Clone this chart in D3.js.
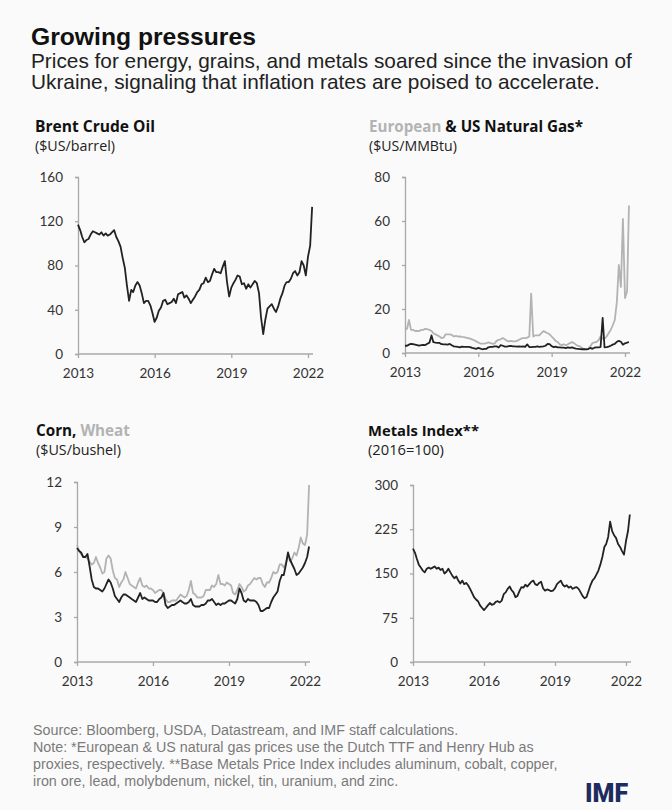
<!DOCTYPE html>
<html>
<head>
<meta charset="utf-8">
<script src="https://cdn.jsdelivr.net/npm/d3@7"></script>
<style>
  body { margin: 0; background: #fafafa; }
  svg { display: block; font-family: "Open Sans", Lato, sans-serif; }
  .tight { font-family: "Liberation Sans", Arial, sans-serif; }
</style>
</head>
<body>
<script>
// monthly values, Jan 2013 .. Mar 2022
var brent = [
  117, 112, 106, 101, 103, 104, 108, 111, 110, 109, 108, 110,
  107, 109, 107, 108, 110, 112, 106, 102, 97, 87, 78, 62,
  48, 58, 56, 62, 65, 62, 55, 46, 48, 48, 44, 37,
  29, 33, 39, 42, 48, 49, 45, 46, 47, 50, 46, 54,
  55, 56, 51, 53, 50, 46, 49, 52, 56, 58, 63, 64,
  69, 65, 66, 72, 77, 74, 74, 73, 79, 84, 65, 52,
  60, 64, 67, 71, 70, 63, 64, 59, 63, 60, 63, 66,
  64, 55, 33, 18, 31, 41, 43, 45, 41, 38, 43, 50,
  55, 62, 65, 65, 68, 73, 75, 71, 74, 84, 80, 71,
  88, 98, 133];

var gasEurope = [
  10.5, 11, 15, 10.5, 10.5, 10, 10, 10, 10.5, 10.5, 11, 10.8,
  10.5, 10, 9, 8.5, 8, 7.5, 6.8, 7, 8.5, 8.5, 8.5, 8.2,
  7.5, 7.8, 7.5, 7.5, 7.3, 7.2, 7, 6.8, 6.5, 6.2, 5.8, 5.3,
  4.8, 4.3, 4.3, 4.3, 4.5, 4.8, 4.5, 4.2, 4.3, 5.5, 6, 6.2,
  6.8, 6.2, 5.6, 5.3, 5.5, 5.3, 5.3, 5.5, 6, 6.5, 6.8, 6.8,
  7, 7.5, 27, 7.5, 8, 8, 8, 9, 10, 9.5, 9, 8.5,
  7.5, 6.5, 5.5, 5, 4, 3.5, 4, 3.5, 4, 4.5, 5, 4.5,
  3.8, 3.2, 3, 2.2, 1.7, 1.9, 2, 3, 4.5, 4.8, 5, 5.8,
  7.5, 6.5, 6.5, 7.5, 9, 10.5, 12.5, 15, 23, 40, 30, 61,
  25, 28, 67];

var gasUS = [
  3.3, 3.3, 3.8, 4.2, 4.0, 3.8, 3.6, 3.4, 3.6, 3.7, 3.6, 4.2,
  4.7, 8.0, 4.9, 4.7, 4.6, 4.6, 4.0, 3.9, 3.9, 3.8, 4.1, 3.5,
  3.0, 2.9, 2.8, 2.6, 2.9, 2.8, 2.8, 2.8, 2.7, 2.3, 2.1, 1.9,
  2.3, 2.0, 1.7, 1.9, 1.9, 2.6, 2.8, 2.8, 3.0, 3.0, 2.5, 3.6,
  3.3, 2.9, 2.9, 3.1, 3.2, 3.0, 3.0, 2.9, 3.0, 2.9, 3.0, 2.8,
  3.9, 2.7, 2.7, 2.8, 2.8, 3.0, 2.8, 2.9, 3.0, 3.3, 4.1, 4.0,
  3.1, 2.7, 2.9, 2.6, 2.6, 2.4, 2.4, 2.2, 2.6, 2.3, 2.6, 2.2,
  2.0, 1.9, 1.8, 1.7, 1.8, 1.6, 1.8, 2.3, 1.9, 2.4, 2.6, 2.6,
  2.7, 16, 2.6, 2.7, 2.9, 3.3, 3.8, 4.1, 5.1, 5.5, 5.1, 3.8,
  4.4, 4.7, 5.0];

var corn = [
  7.6, 7.4, 7.3, 7.0, 7.0, 7.2, 6.4, 5.5, 5.0, 4.9, 4.9, 4.8,
  4.7, 4.9, 5.2, 5.5, 5.3, 4.9, 4.4, 4.2, 4.0, 4.3, 4.5, 4.5,
  4.4, 4.3, 4.2, 4.1, 4.0, 4.3, 4.6, 4.2, 4.3, 4.2, 4.1, 4.1,
  4.1, 4.0, 4.0, 4.2, 4.3, 4.6, 3.8, 3.6, 3.7, 3.8, 3.8, 3.9,
  4.0, 4.1, 4.0, 3.9, 3.9, 4.0, 4.2, 3.8, 3.7, 3.7, 3.7, 3.8,
  3.8, 3.9, 4.1, 4.1, 4.2, 4.0, 3.8, 3.9, 3.8, 3.9, 3.9, 4.0,
  4.1, 4.1, 4.0, 3.9, 4.2, 4.9, 4.6, 4.1, 4.0, 4.2, 4.1, 4.1,
  4.1, 4.0, 3.8, 3.4, 3.4, 3.5, 3.6, 3.6, 4.0, 4.3, 4.5, 4.7,
  5.4, 5.8, 5.8, 6.5, 7.3, 6.8, 6.5, 6.2, 5.8, 5.9, 6.1, 6.3,
  6.6, 7.0, 7.7];

var wheat = [
  7.8, 7.4, 7.2, 7.0, 7.0, 6.9, 6.7, 6.5, 6.6, 7.0, 6.6, 6.3,
  5.9, 6.0, 6.9, 7.1, 6.9, 6.1, 5.6, 5.5, 5.0, 5.3, 5.5, 6.0,
  5.6, 5.2, 5.1, 5.0, 4.9, 5.3, 5.6, 5.1, 5.0, 5.1, 4.9, 4.9,
  4.8, 4.6, 4.7, 4.8, 4.8, 4.6, 4.2, 4.0, 4.0, 4.1, 4.1, 4.1,
  4.3, 4.5, 4.4, 4.3, 4.4, 4.8, 5.4, 4.6, 4.5, 4.3, 4.3, 4.3,
  4.4, 4.8, 4.8, 4.8, 5.1, 5.0, 5.2, 5.8, 5.2, 5.2, 5.1, 5.3,
  5.2, 5.1, 4.6, 4.5, 4.8, 5.2, 5.0, 4.7, 4.8, 5.1, 5.2, 5.4,
  5.6, 5.5, 5.6, 5.6, 5.2, 5.0, 5.3, 5.3, 5.6, 6.0, 5.9, 6.0,
  6.5, 6.5, 6.3, 6.6, 7.1, 6.7, 6.9, 7.3, 7.1, 7.6, 8.3, 7.9,
  7.8, 8.5, 11.8];

var metals = [
  192, 185, 175, 165, 160, 155, 152, 158, 160, 158, 160, 162,
  158, 160, 156, 158, 150, 153, 158, 152, 146, 142, 145, 138,
  133, 138, 132, 134, 130, 124, 117, 110, 106, 103, 96, 92,
  88, 92, 96, 100, 97, 98, 102, 103, 101, 104, 115, 118,
  124, 128, 122, 118, 110, 112, 120, 127, 126, 131, 128, 132,
  136, 138, 132, 130, 134, 136, 125, 121, 123, 122, 120, 121,
  125, 132, 135, 138, 131, 128, 130, 126, 128, 124, 126, 127,
  124, 118, 112, 108, 110, 120, 130, 138, 142, 148, 155, 165,
  178, 195, 200, 212, 238, 222, 215, 210, 200, 195, 188, 182,
  205, 222, 250];

var yearTicks = [2013, 2016, 2019, 2022];
var brentTicks = [0, 40, 80, 120, 160];
var gasTicks = [0, 20, 40, 60, 80];
var grainTicks = [0, 3, 6, 9, 12];
var metalTicks = [0, 75, 150, 225, 300];

var footNotes = [
  "Source: Bloomberg, USDA, Datastream, and IMF staff calculations.",
  "Note: *European & US natural gas prices use the Dutch TTF and Henry Hub as",
  "proxies, respectively. **Base Metals Price Index includes aluminum, cobalt, copper,",
  "iron ore, lead, molybdenum, nickel, tin, uranium, and zinc."
];

var svg = d3.select("body").append("svg")
    .attr("width", 672)
    .attr("height", 810);

svg.append("rect").attr("width", 672).attr("height", 810).attr("fill", "#fafafa");

// scale font size so text spans the given width, returns the size used
function fitText(sel, width) {
  var fs = parseFloat(sel.style("font-size"));
  var len = sel.node().getComputedTextLength();
  var nfs = fs * width / len;
  sel.style("font-size", nfs + "px");
  return nfs;
}

// header
var title = svg.append("text")
    .attr("class", "tight")
    .attr("x", 31).attr("y", 45)
    .style("font-size", "22px").style("font-weight", "bold").attr("fill", "#111")
    .text("Growing pressures");
fitText(title, 225);
var sub1 = svg.append("text")
    .attr("class", "tight")
    .attr("x", 31).attr("y", 68)
    .style("font-size", "18px").attr("fill", "#222")
    .text("Prices for energy, grains, and metals soared since the invasion of");
var subSize = fitText(sub1, 601);
svg.append("text")
    .attr("class", "tight")
    .attr("x", 31).attr("y", 89)
    .style("font-size", subSize + "px").attr("fill", "#222")
    .text("Ukraine, signaling that inflation rates are poised to accelerate.");

function monthDate(i) {
  return new Date(2013, i, 1);
}

function drawPanel(p) {
  var g = svg.append("g");
  var x = d3.scaleTime()
      .domain([new Date(2013, 0, 1), new Date(2022, 0, 1)])
      .range([p.x0, p.x1]);
  var y = d3.scaleLinear()
      .domain([0, p.ticks[p.ticks.length - 1]])
      .range([p.y0, p.y1]);

  // titles
  var t = g.append("text")
      .attr("x", p.tx).attr("y", p.ty)
      .style("font-size", "15px").style("font-weight", "bold").attr("fill", "#111");
  p.title.forEach(function(part) {
    t.append("tspan").attr("fill", part[1]).text(part[0]);
  });
  fitText(t, p.tw);
  var u = g.append("text")
      .attr("x", p.tx).attr("y", p.ty + 19)
      .style("font-size", "13px").attr("fill", "#222")
      .text(p.unit);
  fitText(u, p.uw);

  // y axis
  var ya = g.append("g")
      .attr("transform", "translate(" + p.x0 + ",0)")
      .call(d3.axisLeft(y).tickValues(p.ticks).tickSize(3).tickPadding(12));
  // x axis
  var xa = g.append("g")
      .attr("transform", "translate(0," + p.y0 + ")")
      .call(d3.axisBottom(x).tickValues(yearTicks.map(function(yr) { return new Date(yr, 0, 1); }))
        .tickSize(4).tickPadding(10).tickFormat(d3.timeFormat("%Y")));
  xa.select(".domain").attr("d", "M" + p.x0 + ",0H" + (p.x1 + 5));
  [ya, xa].forEach(function(a) {
    a.select(".domain").attr("stroke", "#a8a8a8").attr("stroke-width", 1.3);
    a.selectAll(".tick line").attr("stroke", "#a8a8a8").attr("stroke-width", 1.3);
    a.selectAll(".tick text").attr("fill", "#333")
      .style("font-size", "13.5px").style("font-family", "Lato, sans-serif");
  });

  var line = d3.line()
      .x(function(d, i) { return x(monthDate(i)); })
      .y(function(d) { return y(d); });

  p.series.forEach(function(s) {
    g.append("path")
        .datum(s.values)
        .attr("d", line)
        .attr("fill", "none")
        .attr("stroke", s.color)
        .attr("stroke-width", s.width || 1.8)
        .attr("stroke-linejoin", "round");
  });
}

var gray = "#b3b3b3";
var dark = "#222";

drawPanel({
  x0: 78, x1: 308, y0: 354, y1: 177, ticks: brentTicks,
  tx: 35, ty: 132, tw: 120, uw: 80,
  title: [["Brent Crude Oil", "#111"]], unit: "($US/barrel)",
  series: [{values: brent, color: dark}]
});
drawPanel({
  x0: 405, x1: 625, y0: 353, y1: 177, ticks: gasTicks,
  tx: 369, ty: 132, tw: 214, uw: 88,
  title: [["European", gray], [" & US Natural Gas*", "#111"]], unit: "($US/MMBtu)",
  series: [{values: gasEurope, color: gray}, {values: gasUS, color: dark}]
});
drawPanel({
  x0: 77, x1: 305, y0: 662, y1: 482, ticks: grainTicks,
  tx: 36, ty: 436, tw: 94, uw: 85,
  title: [["Corn, ", "#111"], ["Wheat", gray]], unit: "($US/bushel)",
  series: [{values: wheat, color: gray}, {values: corn, color: dark}]
});
drawPanel({
  x0: 413, x1: 626, y0: 662, y1: 485, ticks: metalTicks,
  tx: 368, ty: 436, tw: 111, uw: 76,
  title: [["Metals Index**", "#111"]], unit: "(2016=100)",
  series: [{values: metals, color: dark}]
});

// footnotes
var notes = svg.selectAll("text.note")
    .data(footNotes)
    .enter().append("text")
    .attr("class", "note tight")
    .attr("x", 33)
    .attr("y", function(d, i) { return 735 + i * 17; })
    .style("font-size", "12px")
    .attr("fill", "#7a7a7a")
    .text(function(d) { return d; });
var noteSize = fitText(d3.select(notes.nodes()[1]), 501);
notes.style("font-size", noteSize + "px");

svg.append("text")
    .attr("x", 585).attr("y", 802)
    .style("font-size", "25px").style("font-weight", "900")
    .style("font-family", "Roboto, sans-serif")
    .attr("fill", "#1d2b5e")
    .text("IMF");
</script>
</body>
</html>
